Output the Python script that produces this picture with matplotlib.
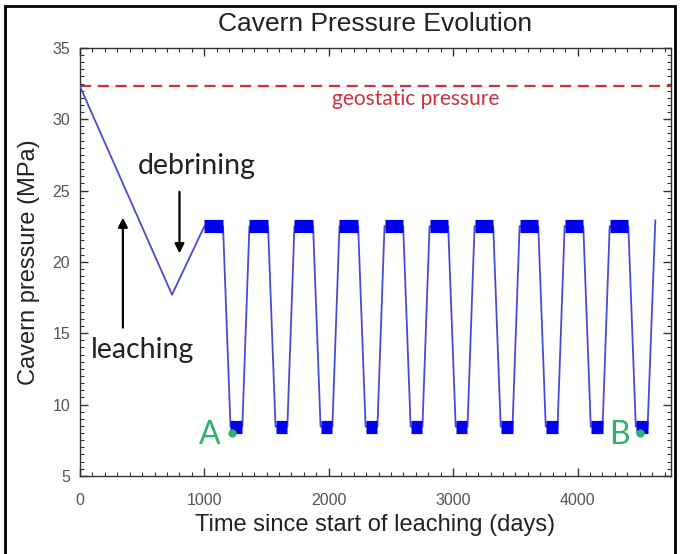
import matplotlib
matplotlib.use("Agg")
import matplotlib.pyplot as plt
from matplotlib.patches import Rectangle

# leaching + debrining phase (days, MPa)
early_t = [0, 740, 1000]
early_p = [32.3, 17.7, 22.5]

# storage cycles: start/end of the high and low pressure holds (days)
top_on = [1000, 1362, 1724, 2086, 2448, 2810, 3172, 3534, 3896, 4258]
top_off = [1150, 1512, 1874, 2236, 2598, 2960, 3322, 3684, 4046, 4408]
bot_on = [1210, 1572, 1934, 2296, 2658, 3020, 3382, 3744, 4106, 4468]
bot_off = [1305, 1667, 2029, 2391, 2753, 3115, 3477, 3839, 4201, 4563]
p_high = 22.5
p_low = 8.45
end_t = 4625
end_p = 22.9

geostatic = 32.35
point_a = (1221, 8.0)
point_b = (4498, 8.0)

# build the pressure history
t = list(early_t)
p = list(early_p)
for a, b, c, d in zip(top_on, top_off, bot_on, bot_off):
    t += [a, b, c, d]
    p += [p_high, p_high, p_low, p_low]
t.append(end_t)
p.append(end_p)

plt.rcParams['font.family'] = ['Liberation Sans', 'DejaVu Sans']

fig = plt.figure(figsize=(6.8, 5.54), dpi=100)
ax = fig.add_axes([0.1176, 0.141, 0.869, 0.7726])

ax.plot(t, p, color='#4a4ad8', lw=1.3, zorder=3)
for a, b in zip(top_on, top_off):
    ax.plot([a, b], [p_high, p_high], color='#0000ee', lw=9.5,
            solid_capstyle='butt', zorder=4)
for c, d in zip(bot_on, bot_off):
    ax.plot([c, d], [p_low, p_low], color='#0000ee', lw=9.5,
            solid_capstyle='butt', zorder=4)

ax.axhline(geostatic, color='#d0303a', lw=1.6, ls=(0, (5, 3)), zorder=2)
ax.text(2700, 31.45, 'geostatic pressure', color='#d0303a', ha='center',
        va='center', fontsize=15, family=['Lato', 'DejaVu Sans'])

# annotations
ax.annotate('', xy=(800, 20.4), xytext=(800, 25.1),
            arrowprops=dict(arrowstyle='-|>', color='black', lw=1.6,
                            mutation_scale=14))
ax.text(935, 26.7, 'debrining', ha='center', va='center', fontsize=20.5,
        color='#222222', family=['Lato', 'DejaVu Sans'])
ax.annotate('', xy=(345, 23.3), xytext=(345, 15.2),
            arrowprops=dict(arrowstyle='-|>', color='black', lw=1.6,
                            mutation_scale=14))
ax.text(505, 13.8, 'leaching', ha='center', va='center', fontsize=20.5,
        color='#222222', family=['Lato', 'DejaVu Sans'])

green = '#2fb36c'
ax.plot(*point_a, 'o', color=green, ms=5, zorder=5)
ax.plot(*point_b, 'o', color=green, ms=5, zorder=5)
ax.text(point_a[0] - 175, 7.9, 'A', color=green, ha='center', va='center',
        fontsize=23, family=['Lato', 'DejaVu Sans'])
ax.text(point_b[0] - 165, 7.9, 'B', color=green, ha='center', va='center',
        fontsize=23, family=['Lato', 'DejaVu Sans'])

ax.set_xlim(0, 4750)
ax.set_ylim(5, 35)
ax.set_xticks([0, 1000, 2000, 3000, 4000])
ax.set_yticks([5, 10, 15, 20, 25, 30, 35])
ax.set_xticks(range(0, 4751, 100), minor=True)
ax.set_yticks([5 + 0.5 * i for i in range(61)], minor=True)
ax.tick_params(which='both', direction='in', top=True, right=True,
               labelsize=11.5, labelcolor='#555555', color='#333333')
ax.tick_params(which='major', length=6, width=1)
ax.tick_params(which='minor', length=3, width=0.8)
ax.tick_params(axis='x', pad=12)
ax.tick_params(axis='y', pad=7)
for s in ax.spines.values():
    s.set_color('#333333')
    s.set_linewidth(1.0)

ax.set_title('Cavern Pressure Evolution', fontsize=19, color='#222222', pad=12)
ax.set_xlabel('Time since start of leaching (days)', fontsize=17,
              color='#222222', labelpad=5)
ax.set_ylabel('Cavern pressure (MPa)', fontsize=17, color='#222222',
              labelpad=9)

fig.patches.append(Rectangle((0.008, -0.05), 0.985, 1.04,
                             transform=fig.transFigure, fill=False,
                             edgecolor='black', lw=2))

fig.savefig('out.png', dpi=100)
